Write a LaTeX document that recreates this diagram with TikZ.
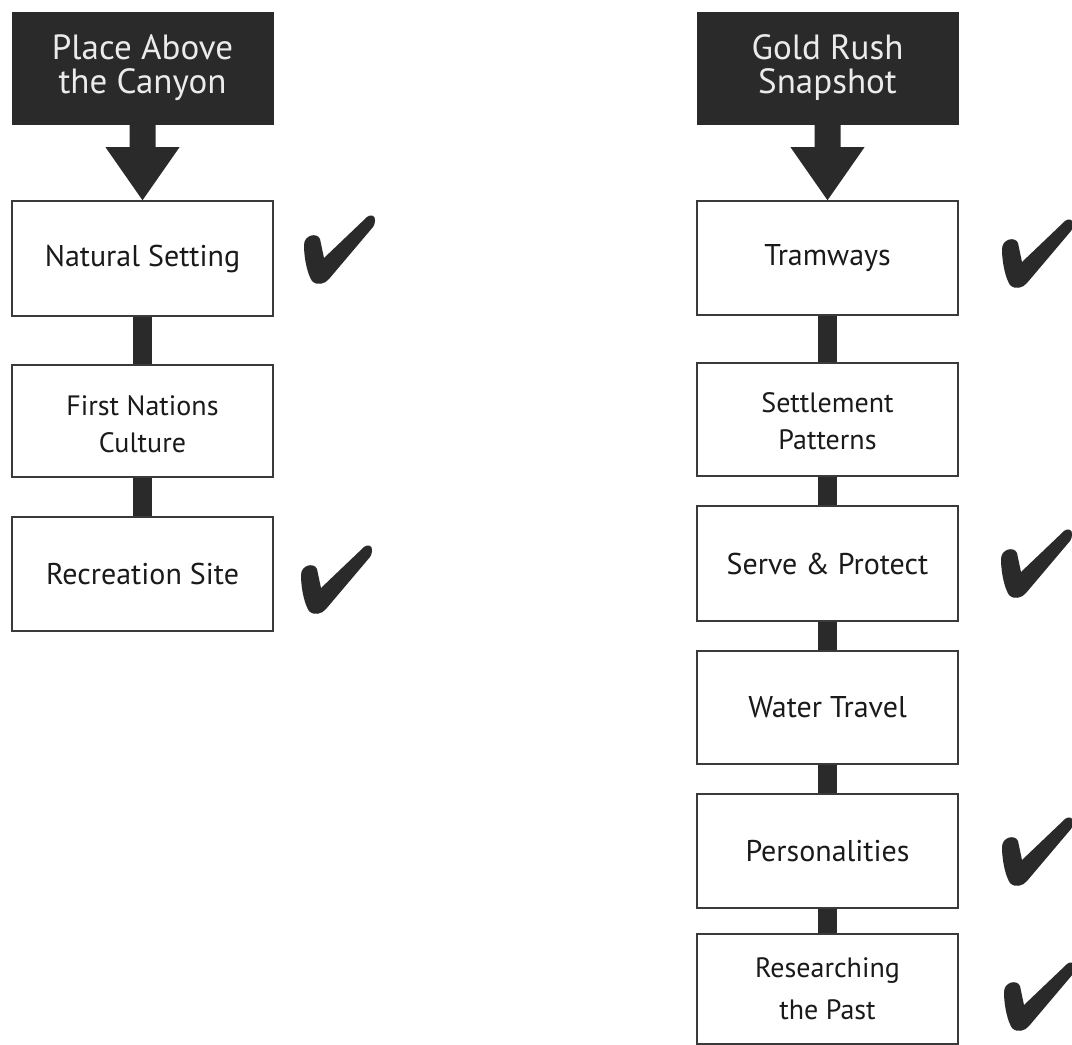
\documentclass[tikz,border=0pt]{standalone}
\usepackage{fontspec}
\setmainfont{PT Sans}
\usetikzlibrary{calc}
\definecolor{ink}{HTML}{1A1A1A}
\definecolor{darkfill}{HTML}{2A2A2A}
\definecolor{edge}{HTML}{3A3A3A}
\tikzset{
  basebox/.style={draw=edge, line width=1.5pt, fill=white, minimum width=261pt, inner sep=0pt, align=center, text=ink},
  onebox/.style={basebox, font=\fontsize{30}{34}\selectfont},
  twobox/.style={basebox, font=\fontsize{28}{37}\selectfont},
  twotext/.style={inner sep=0pt, align=center, text=ink, font=\fontsize{28}{37}\selectfont},
  headbox/.style={fill=darkfill, draw=darkfill, minimum width=261pt, minimum height=112pt, inner sep=0pt, align=center, text=white!92!black, font=\fontsize{35}{34}\selectfont},
  conn/.style={draw=darkfill, line width=19pt},
  checkmk/.pic={\fill[darkfill] (-1,30) .. controls (-1,20) and (12,17) .. (15,24) -- (19,43) -- (62,2) .. controls (65,-1) and (71,0) .. (70,6) .. controls (70,9) and (69,10) .. (68,12) -- (24,64) .. controls (20,69) and (12,71) .. (7,66) .. controls (3,60) and (-1,45) .. (-1,30) -- cycle;}
}
\newcommand{\bigarrow}[2]{%
  \fill[darkfill] ($(#1.south)+(-13,-1)$) -- ($(#1.south)+(13,-1)$) -- ($(#1.south)+(13,23)$) -- ($(#1.south)+(37,23)$) -- (#2.north) -- ($(#1.south)+(-37,23)$) -- ($(#1.south)+(-13,23)$) -- cycle;}
\begin{document}
\begin{tikzpicture}[x=1pt,y=-1pt]
\useasboundingbox (0,0) rectangle (1072,1045);
\fill[white] (0,0) rectangle (1072,1045);
\clip (0,0) rectangle (1072,1045);
% left column
\node[headbox] (h1) at (142.5,68) {Place Above\\the Canyon};
\node[onebox, minimum height=115pt] (l1) at (142.5,258.5) {Natural Setting};
\node[basebox, minimum height=112pt] (l2) at (142.5,421) {};
\node[twotext] (l2t) at ($(l2.center)+(0,3)$) {First Nations\\Culture};
\node[onebox, minimum height=114pt] (l3) at (142.5,574) {Recreation Site};
\bigarrow{h1}{l1}
\draw[conn] (l1.south) -- (l2.north);
\draw[conn] (l2.south) -- (l3.north);
\pic at (305,215) {checkmk};
\pic at (302,545) {checkmk};
% right column
\node[headbox] (h2) at (827.5,68) {Gold Rush\\Snapshot};
\node[onebox, minimum height=114pt] (r1) at (827.5,258) {Tramways};
\node[basebox, minimum height=113pt] (r2) at (827.5,419.5) {};
\node[twotext] (r2t) at ($(r2.center)+(0,2)$) {Settlement\\Patterns};
\node[onebox, minimum height=115pt] (r3) at (827.5,563.5) {Serve \& Protect};
\node[onebox, minimum height=113pt] (r4) at (827.5,707.5) {Water Travel};
\node[onebox, minimum height=114pt] (r5) at (827.5,851) {Personalities};
\node[twobox, minimum height=110pt, font=\fontsize{28}{42}\selectfont] (r6) at (827.5,989) {Researching\\the Past};
\bigarrow{h2}{r1}
\draw[conn] (r1.south) -- (r2.north);
\draw[conn] (r2.south) -- (r3.north);
\draw[conn] (r3.south) -- (r4.north);
\draw[conn] (r4.south) -- (r5.north);
\draw[conn] (r5.south) -- (r6.north);
\pic at (1003,219) {checkmk};
\pic at (1002,529) {checkmk};
\pic at (1003,817) {checkmk};
\pic at (1005,962) {checkmk};
\end{tikzpicture}
\end{document}
